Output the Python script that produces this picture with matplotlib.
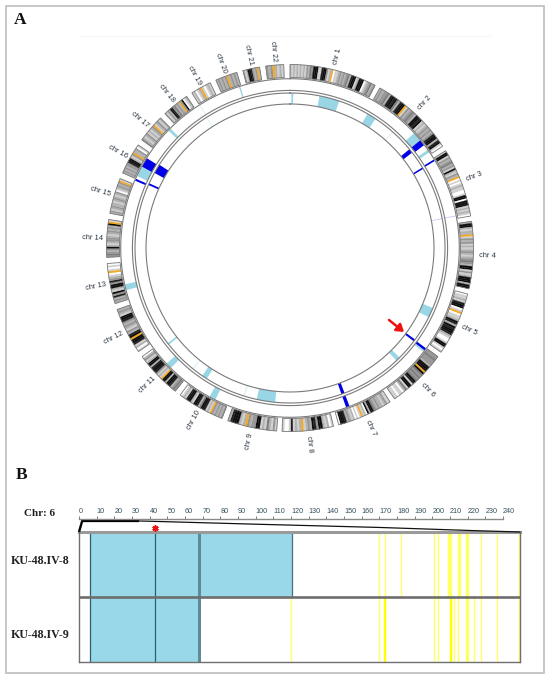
import numpy as np
import matplotlib
matplotlib.use("Agg")
import matplotlib.pyplot as plt

W, H = 550, 682
SANS = "Liberation Sans"
SERIF = "Liberation Serif"

# ---------- panel A data ----------
chrom_names = [f"chr {i}" for i in range(1, 23)]
chrom_mb = [249, 243, 198, 191, 181, 171, 159, 146, 141, 135, 135, 133, 115, 107, 102, 90, 81, 78, 59, 63, 48, 51]
chrom_gap = [1.68] * 8 + [1.95] * 14
# shade per equal segment, clockwise: 0 white .. 9 black, o orange
chrom_bands = [
    "2121212121324399911899312o01123232342899129990123423",
    "2323342898942899o1323432998912123232389928910",
    "1991323423192132o0101211001990999121210",
    "2992122o1323121232123432991312999299",
    "0112189901o0112982989982100199101",
    "3343332999o94343498199142011011",
    "113212232349929021o10102123289990",
    "10212993892321o212181001",
    "13124121993323o21299982",
    "3232323o12189942899129981210",
    "3432899299o1213899829921320",
    "1021899o9823123238991232",
    "2328391299383210o1010",
    "3432392123321232329o1",
    "23123221232123012323o1",
    "2323233899213o22301",
    "3212312123o12312",
    "21329834232o39012",
    "12012o10121",
    "232323o23232",
    "312998323o2",
    "323o2121",
]
outer_track_start = [293.5, 295.2, 298.8, 314.0, 327.6, 342.4, 47.2, 50.4, 54.5, 58.4, 78.9, 126.4, 127.3, 159.4, 206.2, 224.8, 255.6]
outer_track_width = [0.7, 3.6, 3.3, 1.0, 0.3, 0.5, 3.2, 2.1, 1.0, 0.6, 0.3, 0.9, 0.6, 1.2, 2.2, 2.0, 2.0]
outer_track_color = ["b", "l", "b", "l", "p", "l", "l", "b", "l", "b", "v", "b", "l", "b", "l", "l", "l"]
inner_track_start = [294.0, 299.0, 327.2, 0.5, 11.0, 30.0, 41.3, 50.4, 58.7, 78.9, 112.8, 126.2, 135.0, 159.4, 185.5, 197.0, 212.5, 218.5, 231.4]
inner_track_width = [0.7, 3.5, 0.3, 0.7, 7.5, 3.5, 0.3, 1.6, 0.6, 0.3, 3.7, 0.8, 1.6, 1.2, 6.9, 0.5, 2.0, 0.4, 0.7]
inner_track_color = ["b", "b", "p", "l", "l", "l", "p", "b", "b", "v", "l", "b", "l", "b", "l", "p", "l", "p", "l"]

# ---------- panel B data ----------
sample_labels = ["KU-48.IV-8", "KU-48.IV-9"]
ruler_ticks = list(range(0, 241, 10))
blue_row1 = [(6.4, 67.5), (69.0, 120.5)]
blue_row2 = [(6.4, 67.5)]
dark_band_row1 = (67.2, 69.0)
dark_band_row2 = (67.2, 69.0)
dark_line_mb = [6.4, 43.2]
yellow_row1 = [(169.7, 170.2), (173.0, 174.0), (182.2, 182.7), (200.8, 201.5), (203.0, 203.6), (209.1, 210.9),
               (214.5, 216.2), (219.1, 220.8), (227.5, 228.0), (236.8, 237.3), (249.1, 249.5)]
yellow_row2 = [(120.0, 120.5), (169.7, 170.2), (172.6, 173.8), (200.8, 201.5), (203.0, 203.6), (210.2, 211.3),
               (212.3, 212.8), (214.5, 215.0), (219.1, 220.8), (223.6, 224.3), (227.5, 228.0), (236.8, 237.3), (249.1, 249.5)]
strong_yellow = [(172.6, 173.8), (210.2, 211.3)]

track_colors = {"b": "#0000e8", "l": "#98d6e6", "p": "#d6f0f6", "v": "#c8c8fa"}
orange = "#f7a81b"
line_gray = "#7a7a7a"

fig = plt.figure(figsize=(W / 100, H / 100), dpi=100, facecolor="white")


def px_axes(x0, y0, x1, y1, **kw):
    return fig.add_axes([x0 / W, 1 - y1 / H, (x1 - x0) / W, (y1 - y0) / H], **kw)


# overlay in pixel units for the frame, panel letters and captions
ov = px_axes(0, 0, W, H, zorder=0)
ov.set_xlim(0, W)
ov.set_ylim(H, 0)
ov.axis("off")
ov.add_patch(plt.Rectangle((6, 6), 538, 667, fill=False, ec="#c2c2c2", lw=1.3))
ov.plot([80, 490], [36, 36], color="#f6f6f6", lw=0.8)
ov.text(14, 20, "A", family=SERIF, weight="bold", fontsize=12.5, va="center", ha="left", color="#111111")
ov.text(15.5, 475, "B", family=SERIF, weight="bold", fontsize=12.5, va="center", ha="left", color="#111111")
ov.text(24, 513, "Chr: 6", family=SERIF, weight="bold", fontsize=8, va="center", ha="left", color="#222222")
for label, y in zip(sample_labels, [561, 635]):
    ov.text(11, y, label, family=SERIF, weight="bold", fontsize=8.6, va="center", ha="left", color="#222222")

# ---------- panel A ----------
cx, cy, rmax = 290, 248, 186
pol = px_axes(cx - rmax, cy - rmax, cx + rmax, cy + rmax, projection="polar", zorder=2)
pol.patch.set_alpha(0)
pol.set_theta_zero_location("N")
pol.set_theta_direction(-1)
pol.set_ylim(0, rmax)
pol.set_axis_off()

R_IDEO_IN, R_IDEO_OUT = 170.5, 183.5
R_OUT_TRACK = (157.5, 169.0)
R_IN_TRACK = (144.0, 155.0)

deg_per_mb = (360 - sum(chrom_gap)) / sum(chrom_mb)
start = 0.0
for name, mb, bands, gap in zip(chrom_names, chrom_mb, chrom_bands, chrom_gap):
    span = mb * deg_per_mb
    seg = span / len(bands)
    for i, b in enumerate(bands):
        col = orange if b == "o" else str(round(1 - 0.95 * (int(b) / 9) ** 0.75, 3))
        pol.bar(np.radians(start + (i + 0.5) * seg), R_IDEO_OUT - R_IDEO_IN, width=np.radians(seg),
                bottom=R_IDEO_IN, color=col, ec=col, lw=0.2)
    pol.bar(np.radians(start + span / 2), R_IDEO_OUT - R_IDEO_IN, width=np.radians(span), bottom=R_IDEO_IN,
            fill=False, ec="#777777", lw=0.6)
    mid = start + span / 2
    rot = 90 - mid if mid < 180 else 270 - mid
    pol.text(np.radians(mid), 197.5, name, rotation=rot, rotation_mode="anchor", ha="center", va="center",
             family=SANS, fontsize=5.4, color="#2a3540", clip_on=False)
    start += span + gap

for starts, widths, cols, (r0, r1) in [
    (outer_track_start, outer_track_width, outer_track_color, R_OUT_TRACK),
    (inner_track_start, inner_track_width, inner_track_color, R_IN_TRACK),
]:
    for s, w, c in zip(starts, widths, cols):
        pol.bar(np.radians(s + w / 2), r1 - r0, width=np.radians(w), bottom=r0, color=track_colors[c], lw=0)

ring = np.linspace(0, 2 * np.pi, 721)
for r in (169.3, 157.6, 155.0, 144.0):
    pol.plot(ring, np.full_like(ring, r), color=line_gray, lw=0.8)

ov2 = px_axes(0, 0, W, H, zorder=3)
ov2.set_xlim(0, W)
ov2.set_ylim(H, 0)
ov2.axis("off")
ov2.annotate("", xy=(404, 332), xytext=(389, 320),
             arrowprops=dict(arrowstyle="-|>,head_width=0.28,head_length=0.42", color="#ee1111", lw=1.8,
                             shrinkA=0, shrinkB=0))

# ---------- panel B ----------
px_per_mb = 424 / 240
ax = px_axes(79, 532, 520, 662, zorder=2)
ax.set_xlim(0, 441 / px_per_mb)
ax.set_ylim(0, 2)
light_blue = "#99d8e8"

for rows, y0 in [(blue_row1, 1), (blue_row2, 0)]:
    for a, b in rows:
        ax.bar(a, 1, width=b - a, bottom=y0, align="edge", color=light_blue, lw=0)
for (a, b), y0 in [(dark_band_row1, 1), (dark_band_row2, 0)]:
    ax.bar(a, 1, width=b - a, bottom=y0, align="edge", color="#5f8a98", lw=0)
for m in dark_line_mb:
    ax.axvline(m, color="#2f5d6e", lw=0.9)
ax.plot([120.5, 120.5], [1, 2], color="#46707f", lw=0.9)
for rows, y0 in [(yellow_row1, 1), (yellow_row2, 0)]:
    for a, b in rows:
        c = "#ffff00" if (a, b) in strong_yellow else "#ffff66"
        ax.bar(a, 1, width=b - a, bottom=y0, align="edge", color=c, ec=c, lw=0.3)
ax.axhline(1, color="#6e6e6e", lw=1.9)
ax.axhline(2, color="#9a9a9a", lw=2.2, clip_on=False)

for s in ("left", "right", "bottom"):
    ax.spines[s].set_color("#6f6f6f")
    ax.spines[s].set_linewidth(1.0)
ax.spines["top"].set_position(("outward", 9.4))
ax.spines["top"].set_bounds(0, 240)
ax.spines["top"].set_color("#8a8a8a")
ax.spines["top"].set_linewidth(1.0)
ax.xaxis.tick_top()
ax.set_xticks(ruler_ticks)
ax.set_xticklabels([str(t) for t in ruler_ticks], family=SANS, fontsize=5.2, color="#33505c", ha="left")
ax.tick_params(axis="x", length=2, width=0.6, color="#666666", pad=0.5)
ax.set_yticks([])

# zoom wedge from the ruler to the plot box
ax.plot([0, 1.8, 34], [2, 2.17, 2.17], color="black", lw=1.7, clip_on=False, solid_capstyle="butt")
ax.plot([34, 100, 170, 225, 249.6], [2.17, 2.12, 2.07, 2.02, 2.0], color="#111111", lw=0.9, clip_on=False)
ax.plot([43.2], [2.06], ls="none", marker=(6, 2, 0), color="#ee1111", ms=4.5, mew=1.2, clip_on=False)

fig.savefig("out.png", dpi=100, facecolor="white")
